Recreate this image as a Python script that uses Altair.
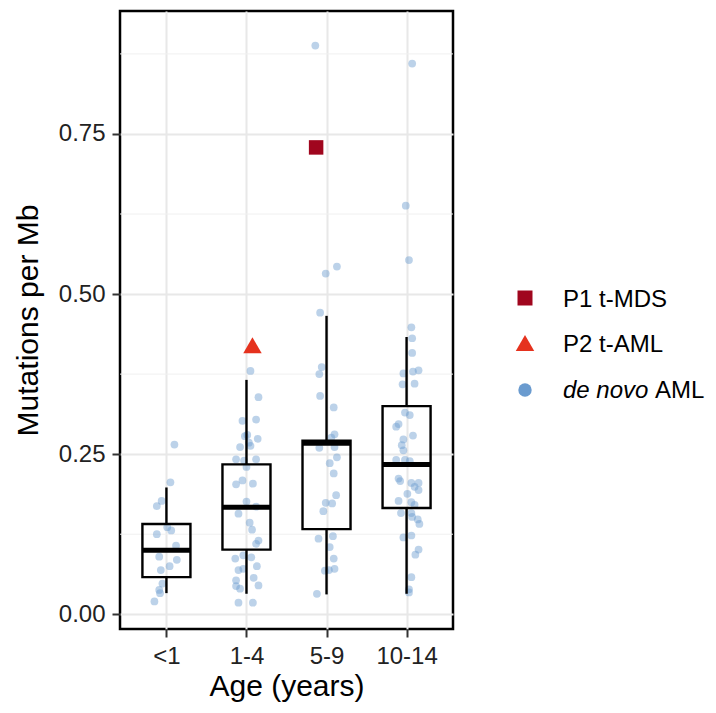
import altair as alt
import pandas as pd

categories = ["<1", "1-4", "5-9", "10-14"]

# de novo AML points: jitter offset (category units) and value, per age group
g1_jit = [0.10, 0.05, -0.06, -0.12, 0.06, 0.01, -0.12, 0.12, -0.09, 0.13, 0.04, -0.07, -0.05, -0.09, -0.08, -0.15]
g1_val = [0.265, 0.206, 0.177, 0.169, 0.131, 0.136, 0.125, 0.107, 0.090, 0.085, 0.075, 0.069, 0.048, 0.038, 0.033, 0.020]

g2_jit = [0.05, 0.15, -0.05, 0.12, 0.01, -0.02, 0.14, -0.08, 0.05, 0.03, -0.13, -0.03, 0.12, 0.00, -0.05, -0.13, 0.08,
          0.00, -0.10, 0.12, 0.04, 0.07, 0.15, 0.12, -0.04, -0.14, 0.06, 0.13, -0.10, -0.04, 0.09, -0.13, 0.15, -0.08,
          -0.13, -0.10, 0.08]
g2_val = [0.380, 0.339, 0.302, 0.304, 0.280, 0.278, 0.274, 0.261, 0.263, 0.268, 0.242, 0.240, 0.242, 0.230, 0.209, 0.203, 0.204,
          0.176, 0.157, 0.168, 0.143, 0.132, 0.115, 0.110, 0.092, 0.087, 0.089, 0.075, 0.069, 0.071, 0.057, 0.053, 0.045, 0.040,
          0.044, 0.018, 0.018]

g3_jit = [-0.14, 0.13, -0.01, -0.08, -0.06, -0.09, -0.08, 0.09, 0.10, 0.06, -0.09, 0.10, 0.13, 0.04, 0.09, 0.12, -0.01,
          0.07, -0.04, -0.10, 0.08, 0.04, 0.09, 0.10, -0.02, 0.03, -0.12]
g3_val = [0.888, 0.543, 0.532, 0.471, 0.386, 0.375, 0.341, 0.323, 0.281, 0.276, 0.260, 0.261, 0.245, 0.236, 0.220, 0.186, 0.174,
          0.173, 0.161, 0.118, 0.122, 0.105, 0.087, 0.071, 0.068, 0.069, 0.032]

g4_jit = [0.07, -0.01, 0.03, 0.06, 0.07, 0.07, -0.04, 0.08, 0.15, -0.05, 0.10, -0.02, 0.04, -0.13, -0.10, 0.08, -0.04,
          -0.06, -0.04, -0.13, -0.02, 0.04, -0.10, -0.08, 0.06, 0.15, 0.10, 0.15, 0.01, -0.10, 0.06, 0.10, -0.07, 0.06,
          0.07, 0.14, 0.16, 0.06, -0.04, 0.15, 0.11, 0.06, 0.03, 0.03]
g4_val = [0.860, 0.638, 0.553, 0.448, 0.431, 0.408, 0.376, 0.379, 0.381, 0.359, 0.360, 0.315, 0.311, 0.293, 0.297, 0.279, 0.273,
          0.264, 0.256, 0.241, 0.241, 0.239, 0.212, 0.208, 0.205, 0.205, 0.199, 0.194, 0.188, 0.177, 0.175, 0.171, 0.158, 0.158,
          0.152, 0.148, 0.141, 0.123, 0.120, 0.101, 0.093, 0.058, 0.039, 0.034]

# boxplot summaries per age group
box_low = [0.033, 0.032, 0.031, 0.032]
box_q1 = [0.058, 0.101, 0.133, 0.166]
box_med = [0.100, 0.167, 0.267, 0.234]
box_q3 = [0.141, 0.234, 0.271, 0.325]
box_high = [0.198, 0.366, 0.466, 0.433]

# highlighted patients: group index (1-based), jitter, value
p1_group, p1_jit, p1_val = 3, -0.13, 0.729
p2_group, p2_jit, p2_val = 2, 0.075, 0.420

minor_breaks = [0.125, 0.375, 0.625, 0.875]
major_breaks = [0.0, 0.25, 0.5, 0.75]

FONT = "Liberation Sans"
BLUE = "#6a9bcf"
DARKRED = "#a0061e"
RED = "#e5321e"

# ---- tables ----
rows = []
for gi, (jit, val) in enumerate([(g1_jit, g1_val), (g2_jit, g2_val), (g3_jit, g3_val), (g4_jit, g4_val)], start=1):
    for j, v in zip(jit, val):
        rows.append({"pos": gi + j, "value": v})
pts = pd.DataFrame(rows)

box = pd.DataFrame({
    "pos": [1, 2, 3, 4],
    "low": box_low, "q1": box_q1, "med": box_med, "q3": box_q3, "high": box_high,
})
p1 = pd.DataFrame({"pos": [p1_group + p1_jit], "value": [p1_val]})
p2 = pd.DataFrame({"pos": [p2_group + p2_jit], "value": [p2_val]})
minor = pd.DataFrame({"value": minor_breaks})

label_expr = "[" + ",".join("'%s'" % c for c in categories) + "][datum.value - 1]"

xscale = alt.Scale(domain=[0.42, 4.58], nice=False, zero=False)
yscale = alt.Scale(domain=[-0.023, 0.942], nice=False, zero=False)
xaxis = alt.Axis(values=[1, 2, 3, 4], labelExpr=label_expr, title="Age (years)", grid=True,
                 labelPadding=7, titlePadding=3)
yaxis = alt.Axis(values=major_breaks, format=".2f", title="Mutations per Mb", grid=True,
                 labelPadding=7, titlePadding=15)


def X(field):
    return alt.X(field, type="quantitative", scale=xscale, axis=xaxis)


def Y(field):
    return alt.Y(field, type="quantitative", scale=yscale, axis=yaxis)


minor_layer = alt.Chart(minor).mark_rule(color="#f0f0f0", strokeWidth=1).encode(y=Y("value"))

points = alt.Chart(pts).mark_circle(size=60, color=BLUE, opacity=0.45).encode(x=X("pos"), y=Y("value"))

boxes = alt.Chart(box).transform_calculate(
    xl="datum.pos - 0.3", xr="datum.pos + 0.3"
).mark_rect(fill="white", fillOpacity=0, stroke="black", strokeWidth=2.4).encode(
    x=X("xl"), x2="xr", y=Y("q1"), y2="q3")

whisk_lo = alt.Chart(box).mark_rule(color="black", strokeWidth=2.4).encode(x=X("pos"), y=Y("low"), y2="q1")
whisk_hi = alt.Chart(box).mark_rule(color="black", strokeWidth=2.4).encode(x=X("pos"), y=Y("q3"), y2="high")

medians = alt.Chart(box).transform_calculate(
    xl="datum.pos - 0.3", xr="datum.pos + 0.3"
).mark_rule(color="black", strokeWidth=5).encode(x=X("xl"), x2="xr", y=Y("med"))

p1_layer = alt.Chart(p1).mark_point(shape="square", size=210, filled=True, color=DARKRED, opacity=1).encode(
    x=X("pos"), y=Y("value"))
p2_layer = alt.Chart(p2).mark_point(shape="triangle-up", size=340, filled=True, color=RED, opacity=1).encode(
    x=X("pos"), y=Y("value"))

# ---- manual legend (outside the panel, right side) ----
leg_df = pd.DataFrame({"a": [0]})
LX, TX = 405, 443
leg_sq = alt.Chart(leg_df).mark_point(shape="square", size=225, filled=True, color=DARKRED, opacity=1).encode(
    x=alt.value(LX), y=alt.value(287))
leg_tri = alt.Chart(leg_df).mark_point(shape="triangle-up", size=340, filled=True, color=RED, opacity=1).encode(
    x=alt.value(LX), y=alt.value(332))
leg_cir = alt.Chart(leg_df).mark_circle(size=180, color=BLUE, opacity=1).encode(
    x=alt.value(LX), y=alt.value(379))

legend_text = dict(font=FONT, fontSize=24, align="left", baseline="alphabetic", color="black")
t1 = alt.Chart(pd.DataFrame({"t": ["P1 t-MDS"]})).mark_text(**legend_text).encode(
    x=alt.value(TX), y=alt.value(296), text="t:N")
t2 = alt.Chart(pd.DataFrame({"t": ["P2 t-AML"]})).mark_text(**legend_text).encode(
    x=alt.value(TX), y=alt.value(341), text="t:N")
t3a = alt.Chart(pd.DataFrame({"t": ["de novo"]})).mark_text(fontStyle="italic", **legend_text).encode(
    x=alt.value(TX), y=alt.value(387), text="t:N")
t3b = alt.Chart(pd.DataFrame({"t": ["AML"]})).mark_text(dx=92, **legend_text).encode(
    x=alt.value(TX), y=alt.value(387), text="t:N")

chart = alt.layer(
    minor_layer, points, whisk_lo, whisk_hi, boxes, medians, p1_layer, p2_layer,
    leg_sq, leg_tri, leg_cir, t1, t2, t3a, t3b
).properties(
    width=333, height=618,
    autosize=alt.AutoSizeParams(type="none"),
    padding={"left": 112, "top": 3, "right": 255, "bottom": 76},
).configure_view(
    stroke="black", strokeWidth=2.5
).configure_axis(
    domain=False,
    gridColor="#e8e8e8", gridWidth=2,
    tickColor="#333333", tickWidth=2, tickSize=8,
    labelFont=FONT, labelFontSize=24, labelColor="#222222",
    titleFont=FONT, titleFontSize=30, titleFontWeight="normal", titleColor="black",
)

chart.save("out.html", embed_options={"renderer": "svg", "actions": False})
